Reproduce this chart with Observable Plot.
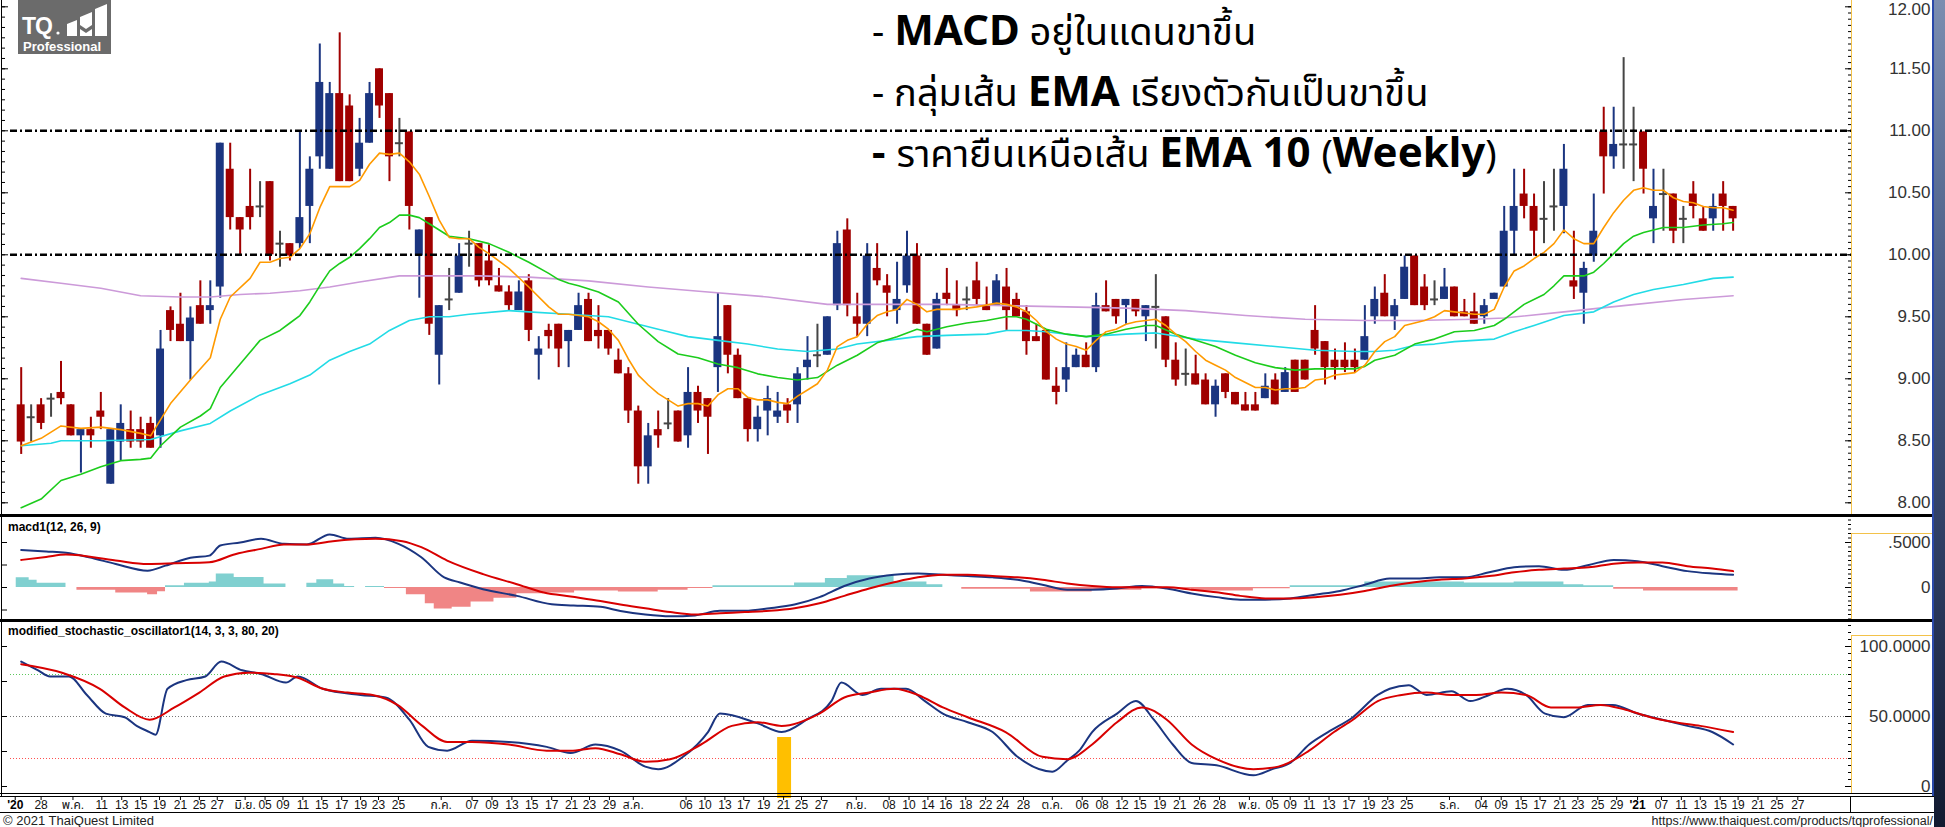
<!DOCTYPE html>
<html>
<head>
<meta charset="utf-8">
<script src="https://cdn.jsdelivr.net/npm/d3@7"></script>
<script src="https://cdn.jsdelivr.net/npm/@observablehq/plot@0.6"></script>
<style>
  html, body { margin: 0; padding: 0; background: #fff; }
  #chart { position: relative; width: 1945px; height: 827px; overflow: hidden; background: #fff; }
  #chart svg { display: block; background: transparent; max-width: none; }
</style>
</head>
<body>
<div id="chart"></div>
<script>
// ---------------- DATA ----------------
const opens = [8.79,8.69,8.79,8.84,8.89,8.79,8.54,8.59,8.74,8.15,8.49,8.59,8.59,8.64,8.54,9.55,9.44,9.30,9.59,9.55,
9.74,10.69,10.30,10.39,10.39,10.59,10.09,10.09,10.09,10.39,10.79,10.69,11.30,11.20,10.69,10.90,11.50,11.30,10.90,10.99,
9.99,10.30,9.19,9.64,9.69,10.09,10.09,9.95,9.75,9.70,9.55,9.79,9.19,9.39,9.44,9.30,9.39,9.64,9.39,9.39,
9.15,9.04,8.74,8.29,8.59,8.64,8.74,8.54,8.89,8.84,9.09,9.59,9.19,8.84,8.59,8.74,8.69,8.79,8.79,9.09,
9.19,9.19,9.59,10.20,9.50,9.44,9.89,9.75,9.55,9.75,9.99,9.44,9.24,9.69,9.59,9.64,9.79,9.59,9.59,9.74,
9.64,9.54,9.34,9.39,8.94,8.99,9.09,9.19,9.09,9.59,9.64,9.59,9.64,9.50,9.58,9.50,9.15,9.04,9.04,8.99,
8.79,9.04,8.89,8.79,8.79,8.84,8.99,8.89,9.15,9.15,9.39,9.30,9.15,9.15,9.15,9.15,9.50,9.69,9.50,9.64,
9.99,9.74,9.64,9.64,9.74,9.54,9.54,9.50,9.64,9.74,10.19,10.49,10.39,10.29,10.39,10.39,9.79,9.69,9.99,10.99,
10.79,10.89,10.89,10.99,10.29,10.49,10.49,10.29,10.49,10.29,10.29,10.49,10.39];
const highs = [9.09,8.79,8.84,8.88,9.14,8.79,8.59,8.69,8.89,8.59,8.79,8.74,8.69,8.69,9.39,9.58,9.69,9.58,9.79,9.79,
10.90,10.90,10.30,10.69,10.59,10.59,10.19,10.09,10.99,10.79,11.70,11.39,11.79,11.29,11.10,11.39,11.50,11.30,11.10,10.99,
10.20,10.30,9.59,9.89,10.09,10.19,10.09,10.08,9.89,9.75,9.79,9.84,9.34,9.44,9.44,9.39,9.69,9.69,9.59,9.39,
9.24,9.09,8.78,8.64,8.74,8.84,8.74,9.09,8.94,8.84,9.69,9.59,9.24,8.84,8.78,8.94,8.89,8.84,9.09,9.34,
9.44,9.50,10.19,10.29,9.69,10.09,10.09,9.84,9.94,10.19,10.09,9.44,9.69,9.89,9.79,9.74,9.94,9.74,9.84,9.89,
9.69,9.59,9.44,9.39,9.09,9.29,9.24,9.29,9.69,9.79,9.64,9.64,9.64,9.59,9.84,9.50,9.29,9.24,9.19,9.04,
8.99,9.04,8.89,8.89,8.89,9.04,9.04,9.09,9.15,9.15,9.59,9.30,9.24,9.29,9.24,9.59,9.74,9.84,9.64,9.99,
9.99,9.84,9.79,9.89,9.74,9.64,9.69,9.64,9.69,10.39,10.69,10.69,10.49,10.59,10.69,10.89,10.19,9.94,10.49,11.19,
11.19,11.59,11.19,10.99,10.69,10.69,10.49,10.39,10.59,10.39,10.49,10.59,10.39];
const lows = [8.39,8.49,8.59,8.69,8.79,8.54,8.24,8.44,8.59,8.15,8.34,8.44,8.44,8.44,8.44,9.30,9.30,8.99,9.44,9.44,
9.65,10.20,10.00,10.20,10.30,9.95,9.90,9.95,10.05,10.09,10.69,10.69,10.59,10.59,10.63,10.90,11.10,10.59,10.79,10.20,
9.65,9.35,8.95,9.55,9.69,9.90,9.74,9.75,9.70,9.55,9.55,9.30,8.99,9.24,9.09,9.09,9.39,9.30,9.24,9.19,
9.04,8.64,8.15,8.15,8.44,8.59,8.49,8.44,8.64,8.39,8.89,9.04,8.84,8.49,8.49,8.54,8.64,8.64,8.64,8.99,
9.09,9.19,9.55,9.50,9.34,9.34,9.75,9.50,9.44,9.69,9.44,9.19,9.24,9.59,9.50,9.55,9.59,9.55,9.59,9.39,
9.50,9.19,9.30,8.99,8.79,8.89,9.09,9.09,9.05,9.54,9.44,9.44,9.50,9.30,9.24,9.09,8.94,8.94,8.95,8.79,
8.69,8.84,8.79,8.74,8.74,8.84,8.79,8.89,8.89,8.99,9.19,8.95,8.99,9.05,9.05,9.15,9.44,9.50,9.39,9.64,
9.59,9.55,9.59,9.64,9.50,9.50,9.44,9.44,9.64,9.74,9.99,10.29,9.99,10.09,10.19,10.17,9.64,9.44,9.94,10.49,
10.69,10.69,10.59,10.49,10.09,10.19,10.09,10.09,10.29,10.19,10.19,10.19,10.19];
const closes = [8.49,8.69,8.64,8.84,8.84,8.54,8.59,8.54,8.69,8.59,8.64,8.49,8.49,8.44,9.24,9.39,9.30,9.49,9.44,9.59,
10.90,10.30,10.20,10.30,10.39,10.00,10.09,9.99,10.30,10.69,11.39,11.30,10.59,10.59,10.90,11.30,11.20,10.79,10.90,10.39,
10.20,9.44,9.59,9.64,9.99,10.09,9.79,9.79,9.70,9.59,9.70,9.39,9.24,9.34,9.24,9.39,9.59,9.30,9.34,9.24,
9.04,8.74,8.29,8.54,8.54,8.64,8.49,8.89,8.74,8.69,9.34,9.19,8.84,8.59,8.69,8.84,8.74,8.74,9.04,9.15,
9.19,9.50,10.09,9.59,9.44,9.99,9.79,9.69,9.64,9.99,9.44,9.19,9.64,9.64,9.55,9.64,9.64,9.55,9.79,9.55,
9.50,9.30,9.30,8.99,8.89,9.09,9.19,9.09,9.59,9.54,9.50,9.64,9.54,9.59,9.58,9.15,8.99,9.04,8.95,8.79,
8.94,8.89,8.79,8.74,8.74,8.94,8.79,9.05,8.89,8.99,9.24,9.09,9.09,9.09,9.09,9.34,9.64,9.50,9.59,9.90,
9.59,9.59,9.64,9.74,9.50,9.50,9.44,9.59,9.69,10.19,10.39,10.39,10.19,10.29,10.39,10.69,9.74,9.89,10.19,10.79,
10.89,10.89,10.89,10.69,10.39,10.49,10.19,10.29,10.39,10.19,10.39,10.39,10.29];

// moving averages: [bar index, value]
const ema10 = [[0,8.46],[2,8.52],[4,8.62],[6,8.60],[8,8.61],[10,8.59],[12,8.56],[13,8.54],[15,8.80],[17,8.99],[19,9.17],[20,9.48],[21,9.66],[23,9.81],[24,9.94],[25,9.94],[26,9.97],[27,9.98],[28,10.05],[29,10.17],[30,10.38],[31,10.55],[32,10.55],[33,10.55],[34,10.60],[35,10.73],[36,10.82],[37,10.81],[38,10.82],[39,10.75],[40,10.65],[41,10.47],[42,10.28],[43,10.14],[44,10.13],[45,10.13],[46,10.06],[47,10.01],[49,9.89],[51,9.74],[53,9.58],[54,9.52],[55,9.52],[56,9.51],[57,9.50],[58,9.46],[59,9.40],[60,9.31],[61,9.16],[62,9.03],[63,8.95],[64,8.88],[65,8.83],[66,8.78],[67,8.80],[68,8.80],[69,8.78],[70,8.87],[71,8.92],[72,8.92],[73,8.85],[74,8.83],[75,8.83],[76,8.81],[77,8.80],[78,8.86],[79,8.91],[80,8.96],[81,9.07],[82,9.26],[83,9.31],[84,9.34],[85,9.44],[86,9.51],[87,9.54],[88,9.56],[89,9.64],[90,9.60],[91,9.54],[92,9.56],[93,9.56],[94,9.56],[96,9.58],[98,9.61],[99,9.60],[100,9.58],[101,9.54],[102,9.47],[103,9.38],[104,9.32],[105,9.28],[106,9.26],[107,9.23],[108,9.31],[109,9.38],[110,9.40],[111,9.44],[112,9.46],[113,9.47],[114,9.48],[115,9.43],[116,9.36],[117,9.30],[118,9.22],[119,9.15],[120,9.11],[121,9.07],[122,9.01],[123,8.97],[124,8.93],[125,8.93],[126,8.91],[127,8.92],[128,8.92],[129,8.93],[130,8.99],[131,9.00],[132,9.03],[133,9.04],[134,9.05],[135,9.11],[136,9.22],[137,9.30],[138,9.34],[139,9.43],[140,9.45],[141,9.47],[142,9.50],[143,9.55],[144,9.54],[145,9.53],[146,9.52],[147,9.52],[148,9.56],[149,9.74],[150,9.87],[151,9.91],[152,9.97],[153,10.02],[154,10.09],[155,10.20],[156,10.13],[157,10.09],[158,10.09],[159,10.22],[160,10.34],[161,10.44],[162,10.52],[163,10.54],[164,10.52],[165,10.52],[166,10.46],[167,10.43],[168,10.42],[169,10.39],[170,10.38],[171,10.38],[172,10.36]];
const ema25 = [[0,7.96],[2,8.03],[4,8.18],[6,8.23],[8,8.29],[10,8.34],[12,8.35],[13,8.36],[14,8.46],[16,8.61],[18,8.70],[19,8.76],[20,8.93],[22,9.12],[24,9.31],[26,9.39],[27,9.45],[28,9.51],[29,9.62],[30,9.75],[31,9.87],[32,9.93],[33,9.98],[34,10.05],[35,10.13],[36,10.22],[37,10.26],[38,10.32],[39,10.32],[40,10.30],[41,10.25],[42,10.20],[43,10.15],[44,10.14],[45,10.13],[47,10.09],[49,10.02],[51,9.94],[53,9.85],[54,9.80],[55,9.77],[56,9.75],[58,9.70],[60,9.62],[62,9.44],[64,9.30],[66,9.20],[68,9.17],[70,9.12],[72,9.09],[74,9.04],[76,9.01],[78,8.99],[80,9.01],[82,9.11],[84,9.19],[86,9.29],[88,9.34],[90,9.40],[91,9.38],[92,9.40],[93,9.42],[95,9.45],[97,9.47],[99,9.50],[100,9.50],[101,9.48],[103,9.40],[105,9.36],[107,9.34],[109,9.36],[111,9.40],[113,9.43],[114,9.43],[116,9.36],[118,9.31],[120,9.26],[122,9.19],[124,9.13],[126,9.09],[128,9.07],[130,9.08],[132,9.08],[134,9.08],[135,9.10],[136,9.15],[138,9.19],[140,9.28],[142,9.32],[144,9.38],[146,9.39],[148,9.43],[149,9.48],[151,9.60],[153,9.68],[154,9.75],[155,9.83],[157,9.83],[158,9.86],[159,9.93],[160,10.01],[161,10.09],[162,10.15],[163,10.18],[165,10.22],[167,10.22],[169,10.24],[171,10.25],[172,10.26]];
const ema75 = [[0,8.46],[3,8.48],[4,8.50],[8,8.50],[13,8.51],[16,8.58],[19,8.64],[21,8.74],[24,8.87],[27,8.96],[29,9.03],[31,9.15],[33,9.22],[35,9.28],[37,9.39],[39,9.47],[41,9.50],[43,9.50],[45,9.52],[49,9.55],[51,9.54],[55,9.52],[59,9.50],[62,9.44],[64,9.40],[67,9.34],[70,9.31],[73,9.28],[76,9.24],[79,9.22],[82,9.24],[84,9.28],[87,9.31],[90,9.34],[93,9.35],[97,9.36],[99,9.39],[101,9.39],[103,9.38],[107,9.34],[111,9.36],[114,9.37],[118,9.32],[122,9.29],[126,9.26],[130,9.23],[134,9.22],[136,9.22],[138,9.23],[140,9.27],[142,9.28],[144,9.30],[148,9.32],[150,9.38],[152,9.43],[155,9.51],[158,9.54],[160,9.62],[162,9.68],[164,9.72],[167,9.76],[170,9.81],[172,9.82]];
const ema200 = [[0,9.81],[4,9.77],[8,9.73],[12,9.67],[16,9.66],[19,9.66],[22,9.68],[25,9.69],[28,9.71],[31,9.74],[34,9.78],[38,9.83],[42,9.83],[46,9.83],[51,9.82],[57,9.79],[63,9.74],[69,9.70],[75,9.66],[81,9.60],[87,9.60],[93,9.60],[99,9.59],[105,9.58],[111,9.57],[117,9.55],[123,9.51],[129,9.48],[135,9.47],[140,9.47],[146,9.48],[149,9.49],[155,9.54],[161,9.59],[167,9.64],[172,9.67]];

// MACD(12,26,9): [bar index, value]
const macdLine = [[0,0.418],[2.5,0.40],[4.5,0.385],[6.8,0.336],[9.5,0.261],[12.7,0.187],[14.5,0.243],[17,0.33],[18.9,0.354],[20,0.466],[22,0.50],[24.1,0.541],[26.4,0.485],[28.7,0.478],[31,0.59],[32.9,0.541],[35.6,0.552],[37.9,0.485],[40.2,0.336],[42.5,0.112],[44.1,0.056],[46.4,-0.019],[49.8,-0.093],[53.3,-0.187],[55.5,-0.20],[58.2,-0.215],[60.2,-0.26],[62.7,-0.30],[65.2,-0.32],[67.7,-0.31],[70.2,-0.259],[72.7,-0.259],[75.2,-0.231],[77.7,-0.190],[80.2,-0.107],[82.7,0.017],[85.2,0.100],[87.7,0.141],[90.1,0.155],[92.6,0.141],[95.1,0.127],[97.6,0.113],[100.1,0.086],[102.6,0.031],[105.1,-0.024],[107.6,-0.024],[110.1,-0.011],[112.6,0.017],[115.1,-0.011],[117.6,-0.066],[120.1,-0.107],[122.5,-0.135],[125,-0.135],[127.5,-0.121],[130,-0.080],[132.5,-0.038],[135,0.031],[137.5,0.100],[140,0.100],[142.5,0.113],[145,0.113],[147.5,0.169],[150,0.224],[152.5,0.237],[155,0.196],[157.5,0.251],[160,0.306],[162.4,0.292],[164.9,0.237],[167.4,0.182],[169.9,0.155],[172,0.141]];
const signalLine = [[0,0.306],[2.5,0.34],[4.5,0.366],[9.5,0.30],[12.7,0.261],[15.6,0.269],[18.9,0.28],[21.5,0.37],[24.1,0.429],[26.4,0.478],[28.7,0.478],[31.3,0.515],[35.6,0.541],[38.3,0.515],[40.2,0.448],[42.8,0.299],[46.4,0.149],[49.8,0.037],[52.5,-0.056],[55.2,-0.10],[58.2,-0.149],[60.2,-0.19],[62.7,-0.231],[65.2,-0.273],[67.7,-0.300],[70.2,-0.286],[72.7,-0.273],[75.2,-0.259],[77.7,-0.231],[80.2,-0.176],[82.7,-0.093],[85.2,-0.011],[87.7,0.058],[90.1,0.113],[92.6,0.141],[95.1,0.141],[97.6,0.127],[100.1,0.113],[102.6,0.086],[105.1,0.045],[107.6,0.017],[110.1,0.003],[112.6,0.003],[115.1,0.003],[117.6,-0.024],[120.1,-0.052],[122.5,-0.093],[125,-0.121],[127.5,-0.121],[130,-0.107],[132.5,-0.080],[135,-0.038],[137.5,0.017],[140,0.058],[142.5,0.086],[145,0.100],[147.5,0.127],[150,0.169],[152.5,0.196],[155,0.210],[157.5,0.224],[160,0.265],[162.4,0.279],[164.9,0.279],[167.4,0.237],[169.9,0.210],[172,0.182]];
// histogram steps: [bar index where step starts, value]
const macdHist = [[-0.5,0.107],[0.8,0.08],[1.6,0.048],[4.5,0],[5.6,-0.03],[9.5,-0.06],[12.7,-0.08],[13.7,-0.048],[14.5,0.02],[16.4,0.048],[18.9,0.06],[19.6,0.15],[21.4,0.11],[24.4,0.04],[26.6,0],[28.7,0.048],[29.7,0.087],[31.4,0.04],[32.5,0.012],[33.5,0],[34.6,0.012],[36.5,-0.012],[38.7,-0.08],[40.6,-0.18],[41.5,-0.24],[43.3,-0.22],[45.2,-0.16],[47.5,-0.12],[49.8,-0.07],[52.5,-0.06],[55.6,-0.04],[60,-0.05],[64,-0.03],[67,-0.01],[69.5,0.02],[77.7,0.05],[80.8,0.10],[83,0.13],[87.7,0.06],[91,0.03],[92.6,0],[94.5,-0.02],[101.4,-0.05],[107.6,-0.03],[112.6,-0.015],[117.6,-0.04],[123.8,-0.015],[127.5,0.02],[135,0.06],[145,0.05],[150,0.06],[155,0.03],[157,0.02],[160,-0.02],[163,-0.04],[172.5,-0.04]];

// modified stochastic (14,3,3,80,20): [bar index, value]
const stochK = [[0,89.2],[1.7,83.0],[2.9,78.6],[4.8,78.6],[6.6,65.4],[8.5,52.1],[10.4,49.5],[11.6,43.3],[12.9,38.9],[13.5,37],[14.7,69.8],[16.6,76.0],[18.5,78.6],[20.1,89.2],[22.2,83.0],[24.1,80.4],[26.6,74.2],[27.8,78.6],[30.3,69.8],[34.1,65.4],[36.6,63.6],[39.0,47.7],[40.9,28.3],[42.8,25.6],[45.3,32.7],[49.0,31.8],[52.8,28.3],[55.2,23.9],[57.7,30.0],[60.2,25.6],[62.7,14.2],[64.0,12.4],[66.5,21.2],[69.0,38.9],[70.2,52.1],[74.0,45.1],[76.4,38.9],[78.9,47.7],[81.4,61.0],[82.4,74.2],[84.5,65.4],[86.4,69.8],[88.9,69.8],[90.8,61.0],[92.6,52.1],[95.1,45.9],[97.6,38.9],[100.1,21.2],[103.6,10.6],[105.1,18.6],[106.3,25.6],[107.6,38.9],[110.1,52.1],[112.0,61.0],[113.8,47.7],[115.7,30.0],[117.6,16.8],[120.1,15.1],[123.8,8.0],[125.7,12.4],[127.5,16.8],[129.4,30.0],[131.3,38.9],[133.8,49.5],[136.3,65.4],[137.5,69.8],[139.4,72.4],[141.2,65.4],[143.7,68.0],[145.6,61.0],[147.5,65.4],[149.3,69.8],[151.2,65.4],[153.1,52.1],[155.0,49.5],[157.4,58.3],[159.9,58.3],[162.4,52.1],[164.9,47.7],[167.4,43.3],[169.9,38.9],[172,30.0]];
const stochD = [[0,87.4],[4.1,81.3],[7.9,69.8],[10.4,56.5],[12.9,47.7],[15.4,56.5],[17.9,67.1],[20.4,78.6],[22.8,81.3],[25.3,80.4],[27.8,77.7],[30.3,69.8],[32.8,67.1],[35.3,65.4],[37.8,58.3],[40.3,43.3],[42.8,31.8],[45.3,31.8],[49.0,30.0],[52.8,25.6],[55.2,25.6],[57.7,27.4],[60.2,23.0],[62.7,17.7],[65.2,19.5],[68.3,30.0],[71.4,43.3],[74.0,45.9],[76.4,43.3],[80.2,52.1],[82.7,63.6],[85.2,67.1],[87.7,69.8],[90.1,65.4],[92.6,56.5],[95.1,49.5],[98.9,38.9],[102.6,21.2],[105.1,19.5],[107.6,30.0],[110.1,45.9],[112.6,56.5],[115.1,47.7],[117.6,30.0],[120.1,19.5],[123.8,12.4],[126.3,14.2],[129.4,25.6],[131.9,38.9],[133.8,47.7],[136.3,61.0],[138.7,65.4],[141.2,67.1],[143.7,65.4],[146.2,65.4],[148.7,67.1],[151.2,65.4],[153.7,56.5],[156.2,56.5],[158.7,58.3],[161.2,54.8],[163.7,49.5],[166.2,45.9],[168.7,43.3],[172,38.9]];
const stochLevels = [80, 50, 20];
const highlightBar = {i: 76.7, top: 35};

// x-axis tick labels (bar index positions)
const xTickIdx = [-0.6,2.0,5.2,8.1,10.1,12.0,13.9,16.0,17.9,19.7,22.5,24.5,26.3,28.3,30.2,32.2,34.1,35.9,37.9,42.2,45.3,47.3,49.3,51.3,53.3,55.3,57.1,59.1,61.5,66.8,68.7,70.7,72.6,74.6,76.6,78.4,80.4,83.9,87.2,89.2,91.1,92.9,94.9,96.9,98.6,100.7,103.6,106.6,108.6,110.6,112.4,114.4,116.4,118.4,120.4,123.4,125.7,127.5,129.4,131.4,133.4,135.4,137.3,139.2,143.5,146.7,148.7,150.7,152.6,154.6,156.4,158.4,160.3,162.4,164.8,166.8,168.7,170.7,172.5,174.5,176.4,178.5];
const xTickLabels = ["'20","28","พ.ค.","11","13","15","19","21","25","27","มิ.ย.","05","09","11","15","17","19","23","25","ก.ค.","07","09","13","15","17","21","23","29","ส.ค.","06","10","13","17","19","21","25","27","ก.ย.","08","10","14","16","18","22","24","28","ต.ค.","06","08","12","15","19","21","26","28","พ.ย.","05","09","11","13","17","19","23","25","ธ.ค.","04","09","15","17","21","23","25","29","'21","07","11","13","15","19","21","25","27"];

const priceTicks = [8, 8.5, 9, 9.5, 10, 10.5, 11, 11.5, 12];
const priceLevels = [11, 10];
const macdTicks = [0, 0.5];
const stochTicks = [0, 50, 100];

const notes = [
  [["- ", false], ["MACD", true], [" อยู่ในแดนขาขึ้น", false]],
  [["- กลุ่มเส้น ", false], ["EMA", true], [" เรียงตัวกันเป็นขาขึ้น", false]],
  [["- ", true], ["ราคายืนเหนือเส้น ", false], ["EMA 10 ", true], ["(", false], ["Weekly", true], [")", false]]
];

// ---------------- LAYOUT ----------------
const W = 1945, H = 827;
const BAR0 = 20.7, STEP = 9.953;           // pixel of bar 0, bar spacing
const xDom = [-BAR0 / STEP, (W - BAR0) / STEP];
const px = p => (p - BAR0) / STEP;          // pixel -> bar index
const AX = 1851;                             // right price-axis line
function lin(h, v1, y1, v2, y2) { const k = (v2 - v1) / (y2 - y1); return [v1 + (h - y1) * k, v1 - y1 * k]; }

const BLUE = "#1b3580", RED = "#a00000", GRAY = "#454545";
const FONT = "'Liberation Sans', Arial, 'Noto Sans Thai', sans-serif";
const chart = document.getElementById("chart");
function place(el, left, top) {
  const d = document.createElement("div");
  d.style.cssText = `position:absolute;left:${left}px;top:${top}px;`;
  d.appendChild(el); chart.appendChild(d); return d;
}
function box(l, t, w, h, bg) {
  const d = document.createElement("div");
  d.style.cssText = `position:absolute;left:${l}px;top:${t}px;width:${w}px;height:${h}px;background:${bg};`;
  chart.appendChild(d); return d;
}

// ---------------- MAIN PRICE PANEL ----------------
const bars = opens.map((o, i) => ({i, o, h: highs[i], l: lows[i], c: closes[i]}));
const up = bars.filter(d => d.c > d.o), down = bars.filter(d => d.c < d.o), flat = bars.filter(d => d.c === d.o);
const BW = 0.4;
const candle = (data, color) => [
  Plot.ruleX(data, {x: "i", y1: "l", y2: "h", stroke: color, strokeWidth: 2}),
  Plot.rect(data, {x1: d => d.i - BW, x2: d => d.i + BW, y1: d => Math.min(d.o, d.c), y2: d => Math.max(d.o, d.c), fill: color})
];
const leftMinor = d3.range(0, 49).map(k => 8 + k / 12);
const rightMinor = d3.range(0, 81).map(k => 8 + k * 0.05);
const pxy = {x: d => d[0], y: d => d[1]};

const mainH = 514;
const mainPlot = Plot.plot({
  width: W, height: mainH, margin: 0,
  style: {fontFamily: FONT, background: "transparent"},
  x: {domain: xDom, axis: null},
  y: {domain: lin(mainH, 10, 254.3, 11, 130.3), axis: null},
  marks: [
    ...candle(up, BLUE), ...candle(down, RED),
    Plot.ruleX(flat, {x: "i", y1: "l", y2: "h", stroke: GRAY, strokeWidth: 2}),
    Plot.ruleY(flat, {y: "o", x1: d => d.i - BW, x2: d => d.i + BW, stroke: GRAY, strokeWidth: 2}),
    Plot.line(ema200, {...pxy, stroke: "#cc9ad9", strokeWidth: 1.6}),
    Plot.line(ema75, {...pxy, stroke: "#22dbe6", strokeWidth: 1.6}),
    Plot.line(ema25, {...pxy, stroke: "#1ccc1c", strokeWidth: 1.6}),
    Plot.line(ema10, {...pxy, stroke: "#ff9a00", strokeWidth: 1.6}),
    Plot.ruleY(priceLevels, {x1: px(10), x2: px(AX), stroke: "#000", strokeWidth: 2.5, strokeDasharray: "7,3,2,3"}),
    Plot.ruleY(leftMinor, {x1: px(2), x2: px(5), stroke: "#000"}),
    Plot.ruleY(priceTicks, {x1: px(2), x2: px(8), stroke: "#000"}),
    Plot.ruleY(rightMinor, {x1: px(AX - 3), x2: px(AX), stroke: "#000"}),
    Plot.ruleY(priceTicks, {x1: px(AX - 6), x2: px(AX), stroke: "#000"}),
    Plot.text(priceTicks.filter(d => d < 12), {x: px(1930), y: d => d, text: d => d.toFixed(2), textAnchor: "end", fontSize: 17, fill: "#333"}),
    Plot.text(priceTicks.filter(d => d >= 12), {x: px(1930), y: d => d, dy: 3, text: d => d.toFixed(2), textAnchor: "end", fontSize: 17, fill: "#333"})
  ]
});
place(mainPlot, 0, 0);

// ---------------- MACD PANEL ----------------
const macdTop = 517, macdH = 102;
const histPos = macdHist.map(([i, v]) => [i, Math.max(v, 0)]);
const histNeg = macdHist.map(([i, v]) => [i, Math.min(v, 0)]);
const macdPlot = Plot.plot({
  width: W, height: macdH, margin: 0,
  style: {fontFamily: FONT, background: "transparent"},
  x: {domain: xDom, axis: null},
  y: {domain: lin(macdH, 0, 70, 0.5, 25), axis: null},
  marks: [
    Plot.areaY(histPos, {...pxy, curve: "step-after", fill: "#80d0d0"}),
    Plot.areaY(histNeg, {...pxy, curve: "step-after", fill: "#f08585"}),
    Plot.line(macdLine, {...pxy, curve: "monotone-x", stroke: BLUE, strokeWidth: 2}),
    Plot.line(signalLine, {...pxy, curve: "monotone-x", stroke: "#d80000", strokeWidth: 2}),
    Plot.ruleY([-0.25, 0, 0.25, 0.5], {x1: px(2), x2: px(7), stroke: "#000"}),
    Plot.ruleY(d3.range(-7, 16).map(k => k * 0.05), {x1: px(AX - 3), x2: px(AX), stroke: "#000"}),
    Plot.ruleY(macdTicks, {x1: px(AX - 6), x2: px(AX), stroke: "#000"}),
    Plot.text(macdTicks, {x: px(1930), y: d => d, text: d => d === 0 ? "0" : ".5000", textAnchor: "end", fontSize: 17, fill: "#333"})
  ]
});
place(macdPlot, 0, macdTop);

// ---------------- STOCHASTIC PANEL + DATE AXIS ----------------
const stTop = 622, stArea = 171, stH = 190;
const sv = abs => ((abs - stTop) - 164) / -1.4;   // absolute pixel -> stochastic value
const xTicks = xTickIdx.map((i, k) => ({i, label: xTickLabels[k], bold: xTickLabels[k].startsWith("'")}));
const stochPlot = Plot.plot({
  width: W, height: stH, margin: 0, marginBottom: stH - stArea,
  style: {fontFamily: FONT, background: "transparent"},
  x: {domain: xDom, axis: null},
  y: {domain: lin(stArea, 0, 164, 100, 24), axis: null},
  marks: [
    Plot.ruleY([stochLevels[0]], {x1: px(10), x2: px(AX), stroke: "#5cc85c", strokeWidth: 1, strokeDasharray: "1,2"}),
    Plot.ruleY([stochLevels[1]], {x1: px(10), x2: px(AX), stroke: "#777", strokeWidth: 1, strokeDasharray: "1,2"}),
    Plot.ruleY([stochLevels[2]], {x1: px(10), x2: px(AX), stroke: "#ff5050", strokeWidth: 1, strokeDasharray: "1,2"}),
    Plot.rect([highlightBar], {x1: d => d.i - 0.7, x2: d => d.i + 0.7, y1: sv(798), y2: "top", fill: "#ffbf00"}),
    Plot.line(stochK, {...pxy, curve: "monotone-x", stroke: BLUE, strokeWidth: 2}),
    Plot.line(stochD, {...pxy, curve: "monotone-x", stroke: "#d80000", strokeWidth: 2}),
    Plot.ruleY([0, 25, 50, 75, 100], {x1: px(2), x2: px(7), stroke: "#000"}),
    Plot.ruleY(d3.range(-1, 24).map(k => k * 5), {x1: px(AX - 3), x2: px(AX), stroke: "#000"}),
    Plot.ruleY(stochTicks, {x1: px(AX - 6), x2: px(AX), stroke: "#000"}),
    Plot.text(stochTicks, {x: px(1930), y: d => d, text: d => d === 0 ? "0" : d.toFixed(4), textAnchor: "end", fontSize: 17, fill: "#333"}),
    Plot.ruleX(xTicks, {x: "i", y1: sv(797), y2: sv(800), stroke: "#000"}),
    Plot.text(xTicks.filter(d => !d.bold), {x: "i", y: sv(805), text: "label", fontSize: 12, fill: "#111"}),
    Plot.text(xTicks.filter(d => d.bold), {x: "i", y: sv(805), text: "label", fontSize: 12, fontWeight: "bold", fill: "#000"})
  ]
});
place(stochPlot, 0, stTop);

// ---------------- FRAME DECORATIONS ----------------
box(1, 0, 1, 796, "#000");                       // left edge
box(0, 514, 1934, 3, "#000");                    // separators
box(0, 619, 1934, 3, "#000");
box(0, 793, 1934, 1, "#000");
box(0, 796, 1934, 1, "#000");
box(0, 812, 1934, 1, "#000");
box(1850, 796, 1, 16, "#000");
const OR = "#f3c24a";
box(AX, 0, 1, 514, OR);
box(AX, 533, 1, 86, OR); box(AX, 533, 82, 1, OR);
box(AX, 635, 1, 158, OR); box(AX, 635, 82, 1, OR);
box(1932, 0, 2, 796, "#2a49aa");

// ---------------- TEXT OVERLAY ----------------
const svg = d3.select(chart).append("svg").attr("width", W).attr("height", H)
  .style("position", "absolute").style("left", 0).style("top", 0).style("pointer-events", "none");

// logo
const logo = svg.append("g");
logo.append("rect").attr("x", 18).attr("y", 0).attr("width", 93).attr("height", 54).attr("fill", "#6b6b6b");
logo.append("text").attr("x", 22).attr("y", 34).attr("fill", "#fff").attr("font-family", FONT)
  .attr("font-weight", "bold").attr("font-size", 23).attr("letter-spacing", -1).text("TQ");
logo.append("circle").attr("cx", 58).attr("cy", 33).attr("r", 1.6).attr("fill", "#fff");
logo.append("path").attr("fill", "#fff").attr("d",
  "M67,24 L77,20 L77,36 L67,36 Z M80,17 L92,12 L92,25 L86,29 L80,25 Z M80,29 L86,33 L92,29 L92,36 L80,36 Z M95,9 L107,4 L107,36 L95,36 Z");
logo.append("text").attr("x", 23).attr("y", 51).attr("fill", "#fff").attr("font-family", FONT)
  .attr("font-weight", "bold").attr("font-size", 13).text("Professional");

// panel titles
svg.append("text").attr("x", 8).attr("y", 531).attr("font-family", FONT).attr("font-weight", "bold")
  .attr("font-size", 12).attr("fill", "#000").text("macd1(12, 26, 9)");
svg.append("text").attr("x", 8).attr("y", 635).attr("font-family", FONT).attr("font-weight", "bold")
  .attr("font-size", 12).attr("fill", "#000").text("modified_stochastic_oscillator1(14, 3, 3, 80, 20)");

// annotation
const NOTE_FONT = "'Noto Sans', 'Noto Sans Thai', 'Liberation Sans', sans-serif";
const baselines = [45, 106, 167];
notes.forEach((parts, k) => {
  const t = svg.append("text").attr("x", 872).attr("y", baselines[k]).attr("font-family", NOTE_FONT)
    .attr("fill", "#000").style("white-space", "pre");
  parts.forEach(([s, b]) => t.append("tspan").attr("font-weight", b ? "bold" : "normal")
    .attr("font-size", b ? 42 : 38).text(s));
});

// footer
svg.append("text").attr("x", 3).attr("y", 825).attr("font-family", FONT).attr("font-size", 13)
  .attr("fill", "#222").text("© 2021 ThaiQuest Limited");
svg.append("text").attr("x", 1933).attr("y", 825).attr("text-anchor", "end").attr("font-family", FONT)
  .attr("font-size", 12.5).attr("fill", "#222").text("https://www.thaiquest.com/products/tqprofessional/");

// right window strip
box(1934, 0, 11, H, "linear-gradient(180deg,#7b8db0 0%,#4a5d86 35%,#2b3a5f 70%,#121a30 100%)");
</script>
</body>
</html>
